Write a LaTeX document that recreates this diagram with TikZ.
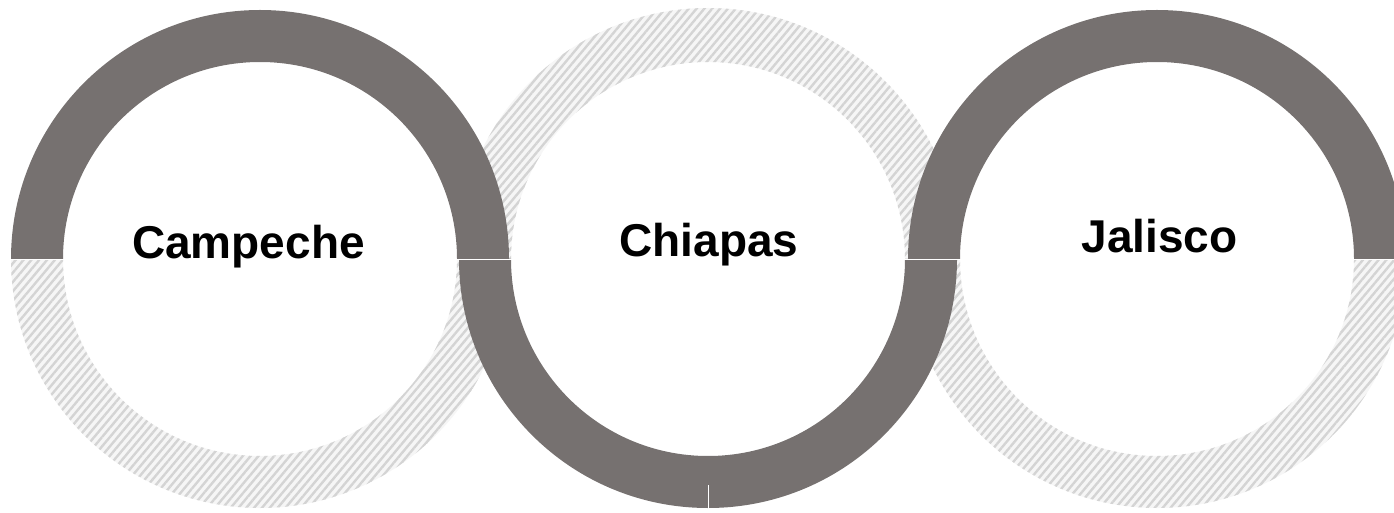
\documentclass[tikz,border=0pt]{standalone}
\usepackage{fontspec}
\setmainfont{Liberation Sans}
\usetikzlibrary{patterns.meta}
\definecolor{ringdark}{RGB}{118,113,112}
\definecolor{hatchline}{RGB}{212,212,212}
\definecolor{hatchbg}{RGB}{246,246,246}
\tikzset{
  solidhalf/.style={fill=ringdark},
  hatchhalf/.style={preaction={fill=hatchbg},pattern={Lines[angle=50,distance=6pt,line width=2.4pt]},pattern color=hatchline},
  label/.style={font=\bfseries\fontsize{46}{50}\selectfont, anchor=base, text=black},
  split/.style={draw=white, line width=1.3pt}
}
\begin{document}
\begin{tikzpicture}[x=1pt,y=1pt]
\useasboundingbox (0,0) rectangle (1394,512);
\coordinate (cA) at (260,253);
\coordinate (cB) at (708,253);
\coordinate (cC) at (1157,253);
% hatched halves
\path[hatchhalf] (cA) ++(-249,0) arc[start angle=180,end angle=360,radius=249] -- ++(-52,0) arc[start angle=360,end angle=180,radius=197] -- cycle;
\path[hatchhalf] (cB) ++(-251,0) arc[start angle=180,end angle=0,radius=251] -- ++(-54,0) arc[start angle=0,end angle=180,radius=197] -- cycle;
\path[hatchhalf] (cC) ++(-249,0) arc[start angle=180,end angle=360,radius=249] -- ++(-52,0) arc[start angle=360,end angle=180,radius=197] -- cycle;
% solid halves
\path[solidhalf] (cA) ++(-249,0) arc[start angle=180,end angle=0,radius=249] -- ++(-52,0) arc[start angle=0,end angle=180,radius=197] -- cycle;
\path[solidhalf] (cB) ++(-249,0) arc[start angle=180,end angle=360,radius=249] -- ++(-52,0) arc[start angle=360,end angle=180,radius=197] -- cycle;
\path[solidhalf] (cC) ++(-249,0) arc[start angle=180,end angle=0,radius=249] -- ++(-52,0) arc[start angle=0,end angle=180,radius=197] -- cycle;
% split lines
\coordinate (sA1) at (8,252.5); \coordinate (sA2) at (66,252.5);
\coordinate (sB1) at (455,252.5); \coordinate (sB2) at (514,252.5);
\coordinate (sC1) at (903,252.5); \coordinate (sC2) at (963,252.5);
\coordinate (sD1) at (1351,252.5); \coordinate (sD2) at (1394,252.5);
\draw[split] (sA1) -- (sA2);
\draw[split] (sB1) -- (sB2);
\draw[split] (sC1) -- (sC2);
\draw[split] (sD1) -- (sD2);
\coordinate (bm1) at (708,0); \coordinate (bm2) at (708,27);
\draw[draw=white, line width=1pt] (bm1) -- (bm2);
% labels
\node[label] (lA) at (248.5,254) {Campeche};
\node[label] (lB) at (709,255) {Chiapas};
\node[label] (lC) at (1159.5,259) {Jalisco};
\end{tikzpicture}
\end{document}
